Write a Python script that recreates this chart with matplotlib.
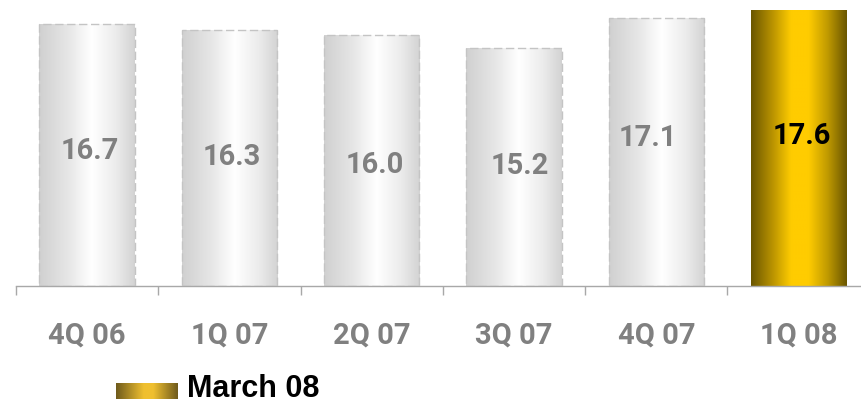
import numpy as np
import matplotlib
matplotlib.use("Agg")
import matplotlib.pyplot as plt
from matplotlib.colors import LinearSegmentedColormap
from matplotlib.transforms import offset_copy

# Quarterly figures
quarters = ["4Q 06", "1Q 07", "2Q 07", "3Q 07", "4Q 07", "1Q 08"]
values = [16.7, 16.3, 16.0, 15.2, 17.1, 17.6]
highlight = "1Q 08"
legend_label = "March 08"

# Layout of the value labels (data-unit height, horizontal nudge in px)
label_heights = [8.6, 8.2, 7.7, 7.65, 9.45, 9.55]
label_nudge_px = [3, 2, 3, 6, -9, 3]

W, H, DPI = 862, 399, 100
fig = plt.figure(figsize=(W / DPI, H / DPI), dpi=DPI)
fig.patch.set_facecolor("white")

# Axes: baseline at y=286 px, category width ~142.3 px, starts at x=16 px
cat_w = 142.3
ax_left, ax_base = 16, 286
ax = fig.add_axes([ax_left / W, (H - ax_base) / H, cat_w * len(quarters) / W, ax_base / H])
ymax = 17.6 * ax_base / 276.0
ax.set_xlim(-0.5, len(quarters) - 0.5)
ax.set_ylim(0, ymax)

gray_cmap = LinearSegmentedColormap.from_list(
    "silver", [(0.0, "#d0d0d0"), (0.3, "#e6e6e6"), (0.55, "#ffffff"), (0.8, "#ececec"), (1.0, "#d3d3d3")])
gold_cmap = LinearSegmentedColormap.from_list(
    "gold", [(0.0, "#6a5600"), (0.22, "#b89200"), (0.42, "#ffcc00"), (0.6, "#ffcc00"), (0.8, "#c09a00"), (1.0, "#6a5600")])

grad = np.linspace(0, 1, 256).reshape(1, -1)
bar_w = 0.67

for i, (q, v) in enumerate(zip(quarters, values)):
    is_hl = q == highlight
    cmap = gold_cmap if is_hl else gray_cmap
    x0 = i - bar_w / 2
    bar = ax.bar(i, v, width=bar_w, facecolor="none", edgecolor="none", zorder=2)[0]
    img = ax.imshow(grad, cmap=cmap, aspect="auto", extent=(x0, x0 + bar_w, 0, v),
                    interpolation="bicubic", zorder=1)
    img.set_clip_path(bar)
    if not is_hl:
        ax.bar(i, v, width=bar_w, facecolor="none", edgecolor="#c4c4c4",
               linewidth=1.0, linestyle=(0, (6, 2.6)), zorder=3)

    tr = offset_copy(ax.transData, fig=fig, x=label_nudge_px[i] * 72 / DPI, y=0, units="points")
    ax.text(i, label_heights[i], f"{v:.1f}", transform=tr, ha="center", va="center",
            fontsize=21, fontweight="bold", family="Roboto",
            color="black" if is_hl else "#808080", zorder=4)

    # Category label below the axis line
    ax.annotate(q, xy=(i, 0), xytext=(0, -58 * 72 / DPI), textcoords="offset points",
                ha="center", va="baseline", fontsize=21, fontweight="bold",
                family="Roboto", color="#808080", annotation_clip=False)

ax.set_xlim(-0.5, len(quarters) - 0.5)
ax.set_ylim(0, ymax)

for side in ("top", "right", "left"):
    ax.spines[side].set_visible(False)
ax.spines["bottom"].set_color("#a8a8a8")
ax.spines["bottom"].set_linewidth(1.0)
ax.set_yticks([])
ax.set_xticks(np.arange(-0.5, len(quarters), 1.0))
ax.set_xticklabels([])
ax.tick_params(axis="x", direction="out", length=6.5, width=1.0, color="#a8a8a8")

# Legend swatch with its gradient
sw = fig.add_axes([116 / W, 0, 62 / W, 16 / H])
sw.imshow(grad, cmap=LinearSegmentedColormap.from_list(
    "gold_sw", [(0.0, "#6e5a1c"), (0.45, "#f0c030"), (0.6, "#f0c030"), (1.0, "#6e5a1c")]),
    aspect="auto", extent=(0, 1, 0, 1), interpolation="bicubic")
sw.set_axis_off()
fig.text(187 / W, 2.0 / H, legend_label, ha="left", va="baseline",
         fontsize=22, fontweight="bold", family="Liberation Sans", color="black")

fig.savefig("out.png", dpi=DPI, facecolor="white")
